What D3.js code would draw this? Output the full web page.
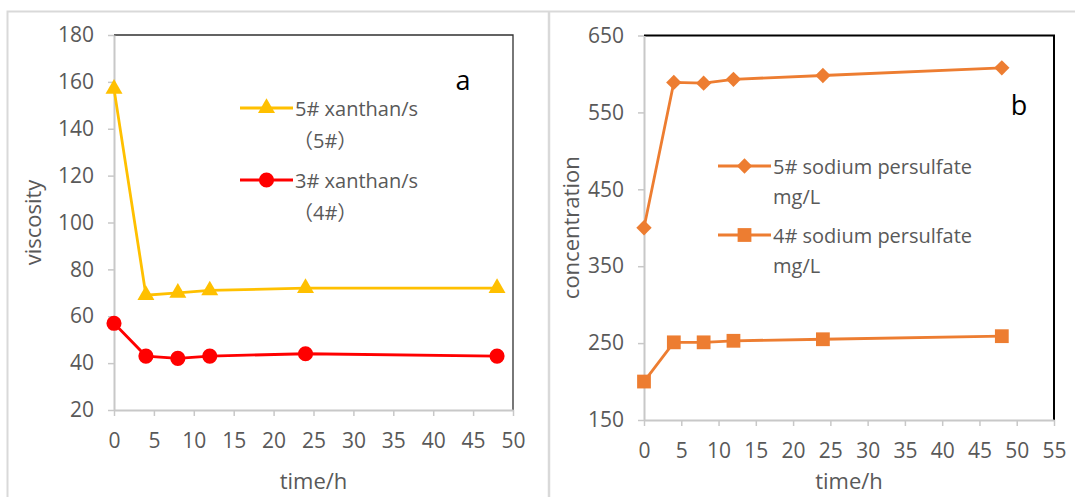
<!DOCTYPE html>
<html>
<head>
<meta charset="utf-8">
<script src="https://cdn.jsdelivr.net/npm/d3@7"></script>
<style>
  body { margin: 0; background: #fff; }
  text { font-family: "Open Sans", "Noto Sans CJK SC", sans-serif; }
</style>
</head>
<body>
<div class="area"></div>
<script>
// panel a: viscosity
var hoursA = [0, 4, 8, 12, 24, 48];
var xanthan5 = [157, 69, 70, 71, 72, 72];
var xanthan3 = [57, 43, 42, 43, 44, 43];
var xTicksA = [0, 5, 10, 15, 20, 25, 30, 35, 40, 45, 50];
var yTicksA = [20, 40, 60, 80, 100, 120, 140, 160, 180];

// panel b: sodium persulfate concentration
var hoursB = [0, 4, 8, 12, 24, 48];
var persulfate5 = [400, 589, 588, 593, 598, 608];
var persulfate4 = [200, 251, 251, 253, 255, 259];
var xTicksB = [0, 5, 10, 15, 20, 25, 30, 35, 40, 45, 50, 55];
var yTicksB = [150, 250, 350, 450, 550, 650];

var svg = d3.select(".area")
    .append("svg")
    .attr("width", 1075)
    .attr("height", 497)

// outer frame + divider
svg.append("rect")
    .attr("x", 7.5).attr("y", 11.5)
    .attr("width", 1100).attr("height", 520)
    .attr("fill", "none")
    .style("stroke", "#d9d9d9")
    .style("stroke-width", 2)
svg.append("line")
    .attr("x1", 549).attr("y1", 11).attr("x2", 549).attr("y2", 497)
    .style("stroke", "#d9d9d9")
    .style("stroke-width", 2.5)

function drawPanel(p) {
    var x = d3.scaleLinear().domain(p.xDomain).range([p.left, p.right]);
    var y = d3.scaleLinear().domain(p.yDomain).range([p.bottom, p.top]);
    var g = svg.append("g");

    // top and right border
    g.append("path")
        .attr("d", "M" + p.left + "," + p.top + "H" + p.right + "V" + p.bottom)
        .attr("fill", "none")
        .style("stroke", p.borderColor)
        .style("stroke-width", p.borderWidth)

    var ax = g.append("g")
        .attr("transform", "translate(0," + p.bottom + ")")
        .call(d3.axisBottom(x).tickValues(p.xTicks).tickSize(6).tickSizeOuter(0).tickPadding(17));
    var ay = g.append("g")
        .attr("transform", "translate(" + p.left + ",0)")
        .call(d3.axisLeft(y).tickValues(p.yTicks).tickSize(6).tickSizeOuter(0).tickPadding(14));
    [ax, ay].forEach(function (a) {
        a.select(".domain").style("stroke", "#c8c8c8").style("stroke-width", 2);
        a.selectAll(".tick line").style("stroke", "#c8c8c8").style("stroke-width", 1.5);
        a.selectAll(".tick text")
            .style("font-size", "21px")
            .style("font-family", "'Open Sans', sans-serif")
            .attr("fill", "#595959");
    });

    // axis titles
    g.append("text")
        .attr("x", (p.left + p.right) / 2)
        .attr("y", p.xTitleY)
        .attr("text-anchor", "middle")
        .attr("dominant-baseline", "central")
        .style("font-size", "22px")
        .attr("fill", "#595959")
        .text("time/h")
    g.append("text")
        .attr("transform", "translate(" + p.yTitleX + "," + (p.top + p.bottom) / 2 + ") rotate(-90)")
        .attr("text-anchor", "middle")
        .attr("dominant-baseline", "central")
        .style("font-size", "22px")
        .attr("fill", "#595959")
        .text(p.yTitle)

    // panel letter
    g.append("text")
        .attr("x", p.letterX).attr("y", p.letterY)
        .attr("text-anchor", "middle")
        .attr("dominant-baseline", "central")
        .style("font-size", "27px")
        .attr("fill", "#000")
        .text(p.letter)

    var line = d3.line().x(function (d) { return x(d[0]); }).y(function (d) { return y(d[1]); });

    p.series.forEach(function (s, k) {
        var pts = d3.zip(p.hours, s.values);
        g.append("path")
            .datum(pts)
            .attr("d", line)
            .attr("fill", "none")
            .style("stroke", s.color)
            .style("stroke-width", 2.8)
        g.selectAll(null)
            .data(pts)
            .enter()
            .append("path")
            .attr("transform", function (d) { return "translate(" + x(d[0]) + "," + y(d[1]) + ")"; })
            .attr("d", d3.symbol().type(s.symbol).size(s.size))
            .attr("fill", s.color)

        // legend
        var ly = p.legendY + k * p.legendStep;
        g.append("line")
            .attr("x1", p.legendX).attr("y1", ly)
            .attr("x2", p.legendX + 53).attr("y2", ly)
            .style("stroke", s.color)
            .style("stroke-width", 2.8)
        g.append("path")
            .attr("transform", "translate(" + (p.legendX + 26.5) + "," + ly + ")")
            .attr("d", d3.symbol().type(s.symbol).size(s.size))
            .attr("fill", s.color)
        s.label.forEach(function (t, j) {
            g.append("text")
                .attr("x", p.legendX + 55 + (j ? p.line2Indent : 0))
                .attr("y", ly + j * p.labelLine)
                .attr("dominant-baseline", "central")
                .style("font-size", "20px")
                .attr("fill", "#595959")
                .text(t)
        });
    });
}

drawPanel({
    left: 114, right: 513, top: 35, bottom: 410,
    xDomain: [0, 50], yDomain: [20, 180],
    xTicks: xTicksA, yTicks: yTicksA,
    borderColor: "#303030", borderWidth: 1.3,
    xTitleY: 480, yTitleX: 32, yTitle: "viscosity",
    letter: "a", letterX: 463, letterY: 79,
    hours: hoursA,
    legendX: 240, legendY: 108, legendStep: 72, labelLine: 32, line2Indent: -2,
    series: [
        { values: xanthan5, color: "#ffc000", symbol: d3.symbolTriangle, size: 125, label: ["5# xanthan/s", "（5#）"] },
        { values: xanthan3, color: "#ff0000", symbol: d3.symbolCircle, size: 180, label: ["3# xanthan/s", "（4#）"] }
    ]
});

drawPanel({
    left: 644, right: 1054, top: 35.5, bottom: 420,
    xDomain: [0, 55], yDomain: [150, 650],
    xTicks: xTicksB, yTicks: yTicksB,
    borderColor: "#000", borderWidth: 2,
    xTitleY: 480, yTitleX: 570, yTitle: "concentration",
    letter: "b", letterX: 1019, letterY: 104,
    hours: hoursB,
    legendX: 718, legendY: 166, legendStep: 69, labelLine: 30.5, line2Indent: 0,
    series: [
        { values: persulfate5, color: "#ed7d31", symbol: d3.symbolDiamond2, size: 150, label: ["5# sodium persulfate", "mg/L"] },
        { values: persulfate4, color: "#ed7d31", symbol: d3.symbolSquare, size: 190, label: ["4# sodium persulfate", "mg/L"] }
    ]
});
</script>
</body>
</html>
